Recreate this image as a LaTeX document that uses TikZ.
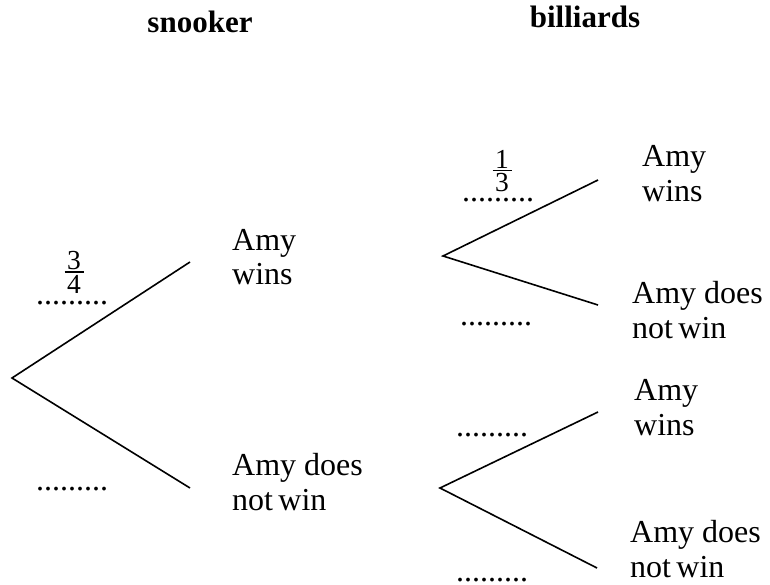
\documentclass[tikz,border=0pt]{standalone}
\usepackage{fontspec}
\setmainfont{Liberation Serif}
\newcommand{\myfrac}[2]{\vbox{\offinterlineskip\hbox to 19pt{\hss#1\hss}\kern2pt\hrule height 1.3pt\kern2.2pt\hbox to 19pt{\hss#2\hss}}}
\begin{document}
\begin{tikzpicture}[x=1pt,y=-1pt,
  lbl/.style={anchor=base west,inner sep=0pt,font=\fontsize{32}{35}\selectfont},
  dotsl/.style={anchor=base west,inner sep=0pt,text depth=0pt,text height=4pt,font=\fontsize{32}{35}\selectfont},
  head/.style={anchor=base,inner sep=0pt,font=\fontsize{31}{35}\selectfont\bfseries},
  fracnode/.style={inner sep=0pt,font=\fontsize{27.5}{27}\selectfont},
  branch/.style={line width=1.6pt}]
\useasboundingbox (0,0) rectangle (770,585);
% headings
\node[head] (hs) at (200,33) {snooker};
\node[head] (hb) at (585,28) {billiards};
% tree points
\coordinate (r0) at (12,378);
\coordinate (a1) at (190,262);
\coordinate (a2) at (190,488);
\coordinate (r1) at (443,256);
\coordinate (b1) at (598,180);
\coordinate (b2) at (598,305);
\coordinate (r2) at (440,488);
\coordinate (c1) at (598,412);
\coordinate (c2) at (597,568);
\draw[branch] (a1) -- (r0) -- (a2);
\draw[branch] (b1) -- (r1) -- (b2);
\draw[branch] (c1) -- (r2) -- (c2);
% outcome labels
\node[lbl] (t1) at (232,250) {\begin{tabular}[t]{@{}l@{}}Amy\\wins\end{tabular}};
\node[lbl] (t2) at (232,475) {\begin{tabular}[t]{@{}l@{}}Amy does\\not\,win\end{tabular}};
\node[lbl] (t3) at (642,167) {\begin{tabular}[t]{@{}l@{}}Amy\\wins\end{tabular}};
\node[lbl] (t4) at (632,303) {\begin{tabular}[t]{@{}l@{}}Amy does\\not\,win\end{tabular}};
\node[lbl] (t5) at (634,400) {\begin{tabular}[t]{@{}l@{}}Amy\\wins\end{tabular}};
\node[lbl] (t6) at (630,542) {\begin{tabular}[t]{@{}l@{}}Amy does\\not\,win\end{tabular}};
% probabilities
\node[fracnode] (f1) at (74,272) {\myfrac{3}{4}};
\node[fracnode] (f2) at (502,171) {\myfrac{1}{3}};
\node[dotsl] (d1) at (36,304) {.........};
\node[dotsl] (d2) at (36,490) {.........};
\node[dotsl] (d3) at (462,202) {.........};
\node[dotsl] (d4) at (460,325) {.........};
\node[dotsl] (d5) at (456,436) {.........};
\node[dotsl] (d6) at (456,581) {.........};
\end{tikzpicture}
\end{document}
